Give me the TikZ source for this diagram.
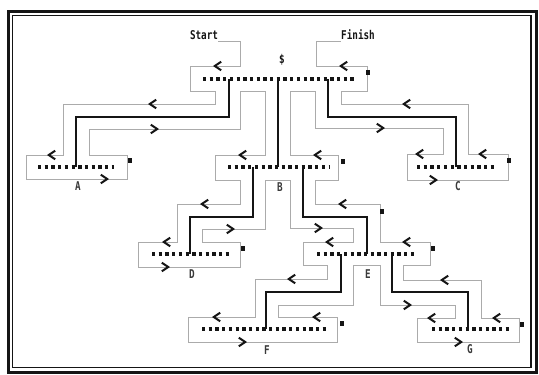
\documentclass[tikz,border=0pt]{standalone}
\usepackage{fontspec}
\newfontfamily\pixfont{DejaVu Sans Mono}
\usetikzlibrary{calc}
\definecolor{wallgray}{HTML}{ABABAB}
\definecolor{ink}{HTML}{151515}
\definecolor{lblgray}{HTML}{3A3A3A}
\tikzset{
  wall/.style={draw=wallgray, line width=0.9pt, line join=miter},
  link/.style={draw=ink, line width=2.3pt},
  keyrow/.style={draw=ink, line width=3.3pt, dash pattern=on 3.3pt off 3.4pt},
  chev/.style={draw=ink, line width=2pt, line join=miter},
  tag/.style={font=\pixfont\fontsize{9.3}{10}\selectfont, text=ink, inner sep=0pt},
  lbl/.style={font=\pixfont\fontsize{9.3}{10}\selectfont, text=lblgray, inner sep=0pt},
  blip/.style={fill=ink, draw=none, minimum width=3.4pt, minimum height=5pt, inner sep=0pt},
}
% chevrons along the walk: pointing left / pointing right
\newcommand\leftchev[2]{\draw[chev] (#1+3.2,#2-4.3) -- (#1-3.2,#2) -- (#1+3.2,#2+4.3);}
\newcommand\rightchev[2]{\draw[chev] (#1-3.2,#2-4.3) -- (#1+3.2,#2) -- (#1-3.2,#2+4.3);}
\newcommand\tall[1]{\scalebox{1}[1.3]{#1}}
\begin{document}
\begin{tikzpicture}[x=1pt,y=-1pt]
\useasboundingbox (0,0) rectangle (539,375);
\fill[white] (0,0) rectangle (539,375);

% frame
\draw[ink, line width=3pt] (8,11) rectangle (536,372);
\draw[ink, line width=1.1pt] (12.5,15.5) rectangle (531,367.5);

% the walk round the tree
\draw[wall] (218,41) -- (240,41) -- (240,66) -- (190,66) -- (190,91) -- (215,91)
  -- (215,104) -- (63,104) -- (63,155) -- (26,155) -- (26,179) -- (127,179)
  -- (127,155) -- (89,155) -- (89,129) -- (240,129) -- (240,91) -- (265,91)
  -- (265,155) -- (215,155) -- (215,180) -- (240,180) -- (240,204) -- (177,204)
  -- (177,242) -- (138,242) -- (138,267) -- (240,267) -- (240,242) -- (202,242)
  -- (202,229) -- (265,229) -- (265,180) -- (290,180) -- (290,228) -- (353,228)
  -- (353,242) -- (303,242) -- (303,265) -- (327,265) -- (327,279) -- (255,279)
  -- (255,317) -- (188,317) -- (188,342) -- (337,342) -- (337,317) -- (278,317)
  -- (278,305) -- (353,305) -- (353,265) -- (380,265) -- (380,305) -- (455,305)
  -- (455,318) -- (417,318) -- (417,342) -- (519,342) -- (519,318) -- (481,318)
  -- (481,280) -- (403,280) -- (403,265) -- (430,265) -- (430,242) -- (380,242)
  -- (380,204) -- (315,204) -- (315,180) -- (338,180) -- (338,155) -- (290,155)
  -- (290,91) -- (315,91) -- (315,128) -- (443,128) -- (443,154) -- (407,154)
  -- (407,180) -- (508,180) -- (508,154) -- (468,154) -- (468,104) -- (341,104)
  -- (341,91) -- (367,91) -- (367,66) -- (316,66) -- (316,41) -- (341,41);

% direction marks
\leftchev{218}{66}  \leftchev{344}{66}
\leftchev{153}{104} \rightchev{154}{129}
\leftchev{52}{155}  \rightchev{104}{179}
\leftchev{243}{155} \leftchev{318}{155}
\leftchev{205}{204} \rightchev{230}{229}
\leftchev{167}{242} \rightchev{165}{267}
\leftchev{343}{204} \rightchev{318}{228}
\leftchev{407}{104} \rightchev{380}{128}
\leftchev{420}{154} \leftchev{483}{154} \rightchev{433}{180}
\leftchev{330}{242} \leftchev{407}{242}
\leftchev{292}{279}
\leftchev{217}{317} \leftchev{317}{317} \rightchev{242}{342}
\rightchev{407}{305} \leftchev{445}{280}
\leftchev{432}{318} \leftchev{497}{318} \rightchev{458}{342}

% key rows of the nodes
\draw[keyrow] (203,79) -- (355,79);
\draw[keyrow] (38,167) -- (114,167);
\draw[keyrow] (228,167) -- (329,167);
\draw[keyrow] (417,167) -- (494,167);
\draw[keyrow] (152,254) -- (229,254);
\draw[keyrow] (317,254) -- (417,254);
\draw[keyrow] (202,329) -- (329,329);
\draw[keyrow] (432,329) -- (509,329);

% pointer origins and targets
\coordinate (s1) at (229,79);  \coordinate (A) at (76,167);
\coordinate (s2) at (278,79);  \coordinate (B) at (278,167);
\coordinate (s3) at (328,79);  \coordinate (C) at (456,167);
\coordinate (b1) at (253,167); \coordinate (D) at (190,254);
\coordinate (b2) at (303,167); \coordinate (E) at (367,254);
\coordinate (e1) at (341,254); \coordinate (F) at (266,329);
\coordinate (e2) at (392,254); \coordinate (G) at (468,329);

% child pointers
\draw[link] (s1) -- (s1 |- 0,117) -| (A);
\draw[link] (s2) -- (B);
\draw[link] (s3) -- (s3 |- 0,117) -| (C);
\draw[link] (b1) -- (b1 |- 0,217) -| (D);
\draw[link] (b2) -- (b2 |- 0,217) -| (E);
\draw[link] (e1) -- (e1 |- 0,292) -| (F);
\draw[link] (e2) -- (e2 |- 0,292) -| (G);

% end-of-node blips
\node[blip] (m0) at (368,72) {};
\node[blip] (m1) at (130,160) {};
\node[blip] (m2) at (343,161) {};
\node[blip] (m3) at (509,160) {};
\node[blip] (m4) at (243,248) {};
\node[blip] (m5) at (433,248) {};
\node[blip] (m6) at (382,211) {};
\node[blip] (m7) at (342,323) {};
\node[blip] (m8) at (522,324) {};

% texts
\node[tag] (start) at (204,35) {\tall{\bfseries Start}};
\node[tag] (finish) at (358,35) {\tall{\bfseries Finish}};
\node[tag] (dollar) at (282,60) {\tall{\bfseries\$}};
\node[lbl] (la) at (78,186) {\tall{\bfseries A}};
\node[lbl] (lb) at (280,187) {\tall{\bfseries B}};
\node[lbl] (lc) at (458,186) {\tall{\bfseries C}};
\node[lbl] (ld) at (192,274) {\tall{\bfseries D}};
\node[lbl] (le) at (368,274) {\tall{\bfseries E}};
\node[lbl] (lf) at (267,350) {\tall{\bfseries F}};
\node[lbl] (lg) at (470,349) {\tall{\bfseries G}};
\end{tikzpicture}
\end{document}
